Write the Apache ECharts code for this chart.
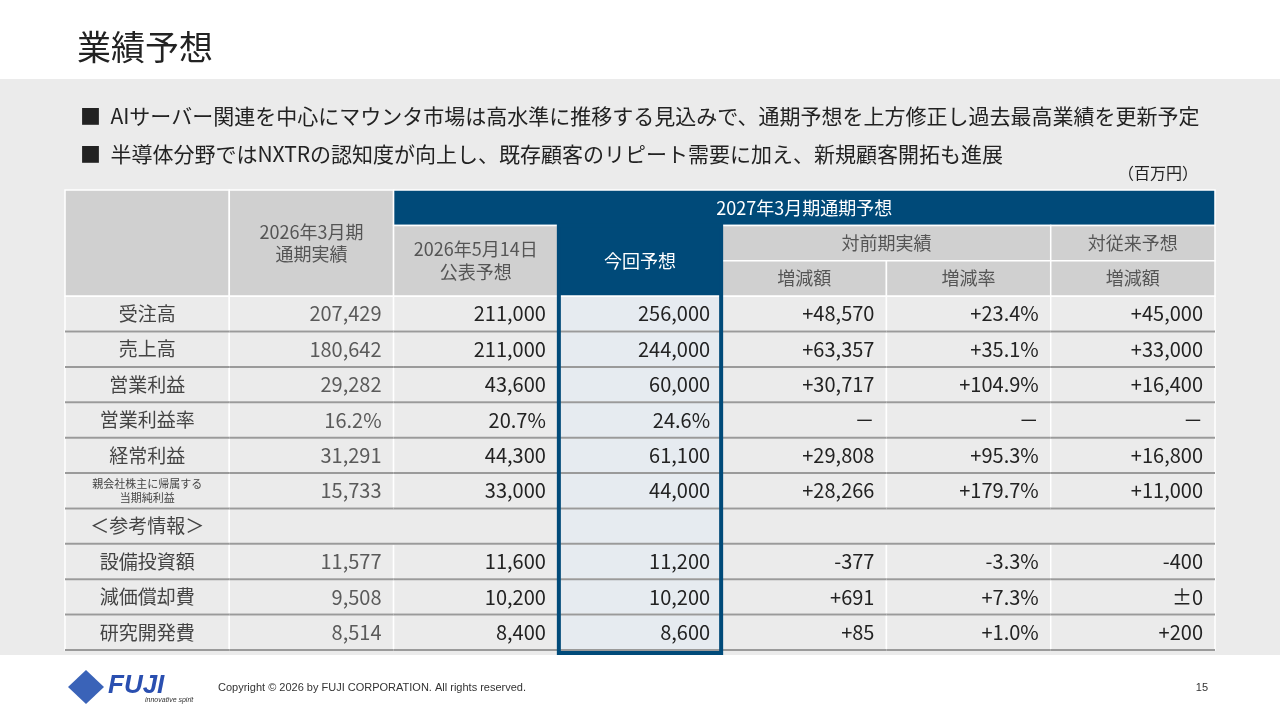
<!DOCTYPE html>
<html><head><meta charset="utf-8">
<script src="https://cdn.jsdelivr.net/npm/echarts@6/dist/echarts.min.js"></script>
<style>html,body{margin:0;padding:0;background:#fff}#c{width:1280px;height:720px}</style>
</head><body><div id="c"></div>
<script>
const rowLabels = ['受注高','売上高','営業利益','営業利益率','経常利益','親会社株主に帰属する\n当期純利益','＜参考情報＞','設備投資額','減価償却費','研究開発費'];
const actual2026 = ['207,429','180,642','29,282','16.2%','31,291','15,733','','11,577','9,508','8,514'];
const prevForecast = ['211,000','211,000','43,600','20.7%','44,300','33,000','','11,600','10,200','8,400'];
const currentForecast = ['256,000','244,000','60,000','24.6%','61,100','44,000','','11,200','10,200','8,600'];
const diffAmount = ['+48,570','+63,357','+30,717','－','+29,808','+28,266','','-377','+691','+85'];
const diffRate = ['+23.4%','+35.1%','+104.9%','－','+95.3%','+179.7%','','-3.3%','+7.3%','+1.0%'];
const diffPrev = ['+45,000','+33,000','+16,400','－','+16,800','+11,000','','-400','±0','+200'];
const headers = {
  actual: '2026年3月期\n通期実績', top: '2027年3月期通期予想', prev: '2026年5月14日\n公表予想',
  cur: '今回予想', vsActual: '対前期実績', vsPrev: '対従来予想', amt: '増減額', rate: '増減率'
};
const FONT = '"Noto Sans CJK JP","Noto Sans",sans-serif';
const BLUE = '#004a79';
const GRAYH = '#d0d0d0';
const GRAYD = '#ebebeb';
const NCOL = 7, NROW = 13;

const cells = [];
cells.push([0,0,1,3,'','h']);
cells.push([1,0,1,3,headers.actual,'h']);
cells.push([2,0,5,1,headers.top,'b']);
cells.push([2,1,1,2,headers.prev,'h']);
cells.push([3,1,1,2,headers.cur,'b']);
cells.push([4,1,2,1,headers.vsActual,'h']);
cells.push([6,1,1,1,headers.vsPrev,'h']);
cells.push([4,2,1,1,headers.amt,'h']);
cells.push([5,2,1,1,headers.rate,'h']);
cells.push([6,2,1,1,headers.amt,'h']);
const cols = [actual2026, prevForecast, currentForecast, diffAmount, diffRate, diffPrev];
rowLabels.forEach((lab, i) => {
  const r = i + 3;
  if (i === 6) {
    cells.push([0,r,1,1,lab,'lab']);
    cells.push([1,r,2,1,'','d']);
    cells.push([3,r,1,1,'','cur']);
    cells.push([4,r,3,1,'','d']);
    return;
  }
  cells.push([0,r,1,1,lab, i===5 ? 'labs' : 'lab']);
  cols.forEach((arr, j) => cells.push([j+1,r,1,1,arr[i], j===0 ? 'g' : (j===2 ? 'cur' : 'd')]));
});
cells.push([3,1,1,12,'','frame']);

function renderItem(params, api) {
  const c = api.value(0), r = api.value(1), cs = api.value(2), rs = api.value(3);
  const text = cells[params.dataIndex][4], kind = cells[params.dataIndex][5];
  const sz = api.size([1,1]);
  const p = api.coord([c, r]);
  const x = p[0] - sz[0]/2, y = p[1] - sz[1]/2, w = sz[0]*cs, h = sz[1]*rs;
  if (kind === 'frame') {
    return {type:'rect', z2: 50, shape:{x:x+1, y:y, width:w-2, height:h+3}, style:{fill:null, stroke:BLUE, lineWidth:4}};
  }
  let fill = GRAYD, color = '#222', align = 'right', size = 20;
  if (kind === 'h') { fill = GRAYH; color = '#555'; align = 'center'; size = 18; }
  if (kind === 'b') { fill = BLUE; color = '#fff'; align = 'center'; size = 18; }
  if (kind === 'cur') { fill = '#e6ebf0'; }
  if (kind === 'g') { color = '#5a5a5a'; }
  if (kind === 'lab') { color = '#444'; align = 'center'; size = 19; }
  if (kind === 'labs') { color = '#444'; align = 'center'; size = 11; }
  const children = [
    {type:'rect', shape:{x:x, y:y, width:w, height:h}, style:{fill:fill, stroke:'#fff', lineWidth:1.5}}
  ];
  if (r >= 3) {
    children.push({type:'line', z2: 5, shape:{x1:x, y1:y+h, x2:x+w, y2:y+h}, style:{stroke:'#9a9a9a', lineWidth:2}});
  }
  if (text) {
    let tx = align === 'center' ? x + w/2 : x + w - 12;
    children.push({type:'text', z2: 10, style:{text:text, x:tx, y:y+h/2, align:align, verticalAlign:'middle',
      fill:color, fontSize:size, fontFamily:FONT, lineHeight: size*1.25}});
  }
  return {type:'group', children};
}

const chart = echarts.init(document.getElementById('c'));
chart.setOption({
  animation:false,
  graphic:[
    {type:'rect', z:-10, shape:{x:0,y:79,width:1280,height:576}, style:{fill:'#ebebeb'}},
    {type:'text', left:77, top:30, style:{text:'業績予想', fontSize:34, fill:'#222', fontFamily:FONT}},
    {type:'text', left:80, top:106, style:{text:'■  AIサーバー関連を中心にマウンタ市場は高水準に推移する見込みで、通期予想を上方修正し過去最高業績を更新予定', fontSize:21, fill:'#222', fontFamily:FONT}},
    {type:'text', left:80, top:144, style:{text:'■  半導体分野ではNXTRの認知度が向上し、既存顧客のリピート需要に加え、新規顧客開拓も進展', fontSize:21, fill:'#222', fontFamily:FONT}},
    {type:'text', right:82, top:165, style:{text:'（百万円）', fontSize:16, fill:'#222', fontFamily:FONT}},
    {type:'text', left:108, top:673, style:{text:'FUJI', fontSize:26, fontWeight:'bold', fontStyle:'italic', fill:'#2a4fb0', fontFamily:'Liberation Sans'}},
    {type:'text', left:145, top:697, style:{text:'innovative spirit', fontSize:7, fontStyle:'italic', fill:'#333', fontFamily:'Liberation Sans'}},
    {type:'polygon', shape:{points:[[86,670],[104,687],[86,704],[68,687]]}, style:{fill:'#3a63b8'}},
    {type:'text', left:218, top:682, style:{text:'Copyright © 2026 by FUJI CORPORATION. All rights reserved.', fontSize:11, fill:'#333', fontFamily:'Liberation Sans'}},
    {type:'text', right:72, top:682, style:{text:'15', fontSize:11, fill:'#333', fontFamily:'Liberation Sans'}}
  ],
  grid:{left:65, right:65, top:190, bottom:70},
  xAxis:{type:'value', min:-0.5, max:NCOL-0.5, show:false},
  yAxis:{type:'value', min:-0.5, max:NROW-0.5, inverse:true, show:false},
  series:[{type:'custom', z:5, renderItem, data: cells.map(c => [c[0], c[1], c[2], c[3]]), clip:false}]
});
</script></body></html>
